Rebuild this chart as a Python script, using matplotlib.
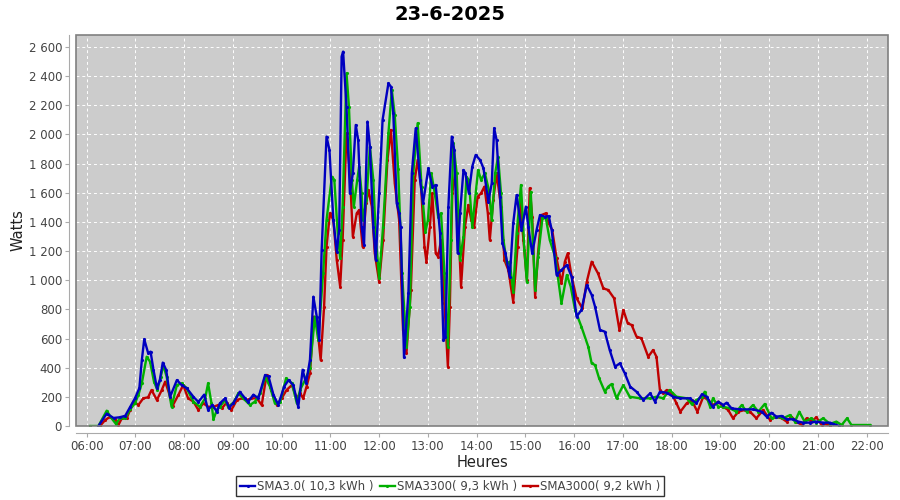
import matplotlib
matplotlib.use('Agg')
import matplotlib.pyplot as plt
from matplotlib.patches import Rectangle
from matplotlib.ticker import FuncFormatter, MultipleLocator

title = "23-6-2025"
labels = ['SMA3.0( 10,3 kWh )', 'SMA3300( 9,3 kWh )', 'SMA3000( 9,2 kWh )']
colors = ['#0000c0', '#00b000', '#c00000']

# heures (decimal) / watts
sma30_h = [6.24, 6.41, 6.55, 6.68, 6.79, 6.89, 6.99, 7.08, 7.13, 7.18, 7.26, 7.31, 7.37, 7.44, 7.50, 7.56,
           7.63, 7.71, 7.85, 7.95, 8.05, 8.19, 8.29, 8.41, 8.49, 8.58, 8.67, 8.73, 8.84, 8.92, 9.01, 9.14,
           9.25, 9.31, 9.42, 9.52, 9.66, 9.73, 9.83, 9.93, 10.05, 10.14, 10.24, 10.34, 10.43, 10.50, 10.58,
           10.65, 10.72, 10.77, 10.82, 10.92, 10.98, 11.06, 11.13, 11.18, 11.23, 11.26, 11.33, 11.40, 11.46,
           11.52, 11.57, 11.64, 11.69, 11.76, 11.81, 11.88, 11.93, 12.00, 12.07, 12.19, 12.24, 12.29, 12.36,
           12.41, 12.44, 12.51, 12.60, 12.67, 12.75, 12.84, 12.90, 13.01, 13.09, 13.16, 13.25, 13.32, 13.36,
           13.42, 13.49, 13.54, 13.61, 13.66, 13.73, 13.77, 13.84, 13.91, 13.98, 14.07, 14.14, 14.24, 14.31,
           14.36, 14.41, 14.48, 14.53, 14.59, 14.68, 14.75, 14.82, 14.92, 15.01, 15.06, 15.14, 15.23, 15.30,
           15.40, 15.48, 15.54, 15.64, 15.74, 15.85, 15.95, 16.05, 16.15, 16.26, 16.36, 16.43, 16.53, 16.63,
           16.73, 16.84, 16.94, 17.04, 17.15, 17.28, 17.42, 17.56, 17.66, 17.76, 17.90, 18.03, 18.17, 18.37,
           18.51, 18.62, 18.72, 18.84, 18.96, 19.06, 19.13, 19.23, 19.40, 19.67, 19.85, 19.95, 20.05, 20.15,
           20.26, 20.36, 20.49, 20.60, 20.70, 20.84, 20.97, 21.11, 21.25, 21.32, 21.44]
sma30_w = [0, 85, 55, 60, 70, 130, 190, 260, 450, 595, 500, 510, 385, 260, 315, 435,
           385, 200, 315, 280, 260, 200, 165, 215, 110, 145, 98, 155, 190, 125, 158, 235,
           190, 165, 215, 190, 350, 340, 215, 145, 270, 315, 280, 130, 385, 293, 453,
           887, 750, 590, 1207, 1985, 1893, 1413, 1196, 1345, 2534, 2568, 2190, 1596, 1734,
           2065, 1962, 1367, 1242, 2088, 1916, 1367, 1139, 1596, 2099, 2351, 2328, 2145, 1528,
           1459, 1367, 470, 910, 1734, 2042, 1688, 1528, 1768, 1642, 1653, 1322, 590, 613,
           1504, 1985, 1893, 1185, 1459, 1756, 1734, 1596, 1779, 1859, 1825, 1768, 1539, 1665,
           2042, 1960, 1573, 1253, 1185, 1024, 1390, 1585, 1345, 1504, 1367, 1185, 1345, 1447,
           1436, 1440, 1345, 1036, 1070, 1104, 1024, 750, 796, 967, 900, 818, 659, 647,
           521, 407, 430, 361, 270, 235, 178, 224, 167, 235, 228, 201, 190, 190,
           156, 217, 201, 132, 167, 144, 160, 121, 114, 114, 98, 64, 91, 64,
           69, 46, 46, 30, 23, 23, 30, 23, 23, 14, 0]

sma3300_h = [6.07, 6.24, 6.41, 6.51, 6.60, 6.68, 6.79, 6.89, 6.99, 7.06, 7.13, 7.23, 7.30, 7.38, 7.45, 7.52,
             7.57, 7.64, 7.74, 7.85, 7.95, 8.05, 8.19, 8.32, 8.43, 8.49, 8.56, 8.60, 8.67, 8.73, 8.84, 8.90,
             9.01, 9.11, 9.21, 9.35, 9.45, 9.56, 9.66, 9.76, 9.86, 9.97, 10.09, 10.21, 10.31, 10.38, 10.48,
             10.58, 10.68, 10.75, 10.85, 10.92, 11.03, 11.08, 11.15, 11.20, 11.25, 11.33, 11.38, 11.44, 11.48,
             11.55, 11.59, 11.64, 11.67, 11.74, 11.81, 11.88, 11.93, 12.00, 12.08, 12.19, 12.26, 12.32, 12.39,
             12.47, 12.56, 12.63, 12.70, 12.79, 12.87, 12.95, 13.00, 13.07, 13.14, 13.21, 13.27, 13.34, 13.41,
             13.47, 13.52, 13.59, 13.66, 13.73, 13.79, 13.84, 13.91, 13.98, 14.03, 14.09, 14.17, 14.25, 14.31,
             14.38, 14.44, 14.50, 14.55, 14.62, 14.68, 14.75, 14.82, 14.91, 14.98, 15.03, 15.11, 15.20, 15.26,
             15.35, 15.42, 15.50, 15.61, 15.74, 15.85, 15.93, 16.02, 16.15, 16.29, 16.36, 16.43, 16.51, 16.63,
             16.70, 16.77, 16.87, 17.01, 17.14, 17.35, 17.56, 17.69, 17.83, 17.96, 18.10, 18.31, 18.41, 18.51,
             18.62, 18.68, 18.79, 18.85, 18.96, 19.06, 19.20, 19.33, 19.44, 19.54, 19.67, 19.78, 19.91, 20.05,
             20.15, 20.29, 20.43, 20.53, 20.62, 20.73, 20.87, 20.97, 21.11, 21.25, 21.38, 21.49, 21.60, 21.69,
             22.07]
sma3300_w = [0, 0, 105, 53, 14, 53, 53, 114, 156, 213, 293, 475, 441, 304, 247, 338,
             418, 338, 132, 281, 293, 259, 167, 132, 190, 293, 156, 46, 110, 132, 178, 132,
             160, 224, 190, 144, 167, 224, 338, 270, 156, 167, 327, 293, 156, 250, 315,
             396, 750, 590, 1047, 1413, 1710, 1688, 1322, 1150, 1504, 2420, 2190, 1688, 1504,
             1688, 1779, 1596, 1413, 1550, 1916, 1688, 1299, 1013, 1367, 2008, 2305, 2130, 1760,
             1047, 544, 818, 1734, 2077, 1642, 1333, 1413, 1734, 1596, 1436, 1459, 1047, 544,
             1276, 1939, 1734, 1139, 1299, 1710, 1688, 1367, 1596, 1756, 1688, 1734, 1619, 1413,
             1734, 1847, 1596, 1276, 1116, 1127, 921, 1322, 1653, 1207, 990, 1607, 933, 1161,
             1425, 1425, 1276, 1161, 842, 1036, 956, 796, 681, 544, 430, 418, 330, 235,
             270, 288, 190, 281, 201, 190, 190, 201, 190, 247, 201, 190, 151, 178,
             201, 235, 132, 190, 132, 132, 121, 98, 144, 98, 144, 98, 151, 53,
             64, 53, 75, 30, 98, 30, 53, 23, 53, 14, 30, 7, 53, 7,
             7]

sma3000_h = [6.27, 6.38, 6.48, 6.58, 6.65, 6.72, 6.82, 6.89, 6.96, 7.06, 7.16, 7.26, 7.33, 7.44, 7.54, 7.61,
             7.69, 7.76, 7.88, 7.98, 8.08, 8.19, 8.29, 8.39, 8.49, 8.60, 8.70, 8.77, 8.87, 8.97, 9.08, 9.18,
             9.28, 9.38, 9.49, 9.59, 9.69, 9.79, 9.90, 10.00, 10.10, 10.21, 10.31, 10.38, 10.44, 10.51, 10.58,
             10.66, 10.73, 10.80, 10.87, 10.92, 10.99, 11.06, 11.13, 11.20, 11.25, 11.33, 11.40, 11.46, 11.54,
             11.59, 11.66, 11.73, 11.78, 11.85, 11.91, 12.00, 12.08, 12.17, 12.24, 12.32, 12.41, 12.49, 12.56,
             12.65, 12.73, 12.79, 12.86, 12.93, 12.97, 13.04, 13.09, 13.16, 13.21, 13.27, 13.34, 13.41, 13.45,
             13.50, 13.56, 13.61, 13.68, 13.76, 13.83, 13.89, 13.95, 14.02, 14.09, 14.16, 14.23, 14.27, 14.34,
             14.41, 14.50, 14.57, 14.65, 14.75, 14.84, 14.89, 14.96, 15.03, 15.09, 15.14, 15.20, 15.26, 15.33,
             15.42, 15.48, 15.55, 15.64, 15.74, 15.81, 15.87, 15.95, 16.05, 16.17, 16.26, 16.36, 16.49, 16.60,
             16.70, 16.82, 16.93, 17.01, 17.10, 17.18, 17.28, 17.38, 17.52, 17.62, 17.69, 17.76, 17.83, 17.90,
             18.00, 18.10, 18.18, 18.31, 18.41, 18.53, 18.65, 18.75, 18.85, 18.96, 19.06, 19.16, 19.26, 19.37,
             19.50, 19.61, 19.74, 19.88, 20.02, 20.12, 20.26, 20.36, 20.46, 20.56, 20.67, 20.77, 20.87, 20.97,
             21.08, 21.18, 21.25]
sma3000_w = [0, 41, 64, 46, 7, 53, 53, 110, 167, 144, 190, 197, 247, 178, 247, 304,
             224, 137, 213, 281, 190, 167, 110, 156, 132, 132, 144, 121, 160, 110, 178, 190,
             178, 190, 190, 144, 350, 247, 144, 190, 247, 281, 190, 225, 190, 270, 361,
             750, 681, 453, 818, 1230, 1459, 1413, 1139, 956, 1276, 2008, 1734, 1299, 1459,
             1482, 1230, 1528, 1619, 1504, 1185, 990, 1276, 1825, 2031, 1665, 1413, 659, 499,
             933, 1688, 1825, 1642, 1230, 1127, 1367, 1596, 1185, 1161, 1276, 842, 407, 818,
             1596, 1734, 1482, 956, 1367, 1516, 1413, 1367, 1573, 1596, 1642, 1459, 1276, 1550,
             1734, 1504, 1139, 1070, 853, 1230, 1539, 1276, 1002, 1631, 1436, 887, 1185, 1447,
             1459, 1390, 1345, 1150, 979, 1127, 1185, 1024, 876, 807, 990, 1127, 1047, 944,
             933, 876, 659, 796, 704, 693, 613, 602, 475, 521, 475, 247, 224, 247,
             224, 156, 98, 156, 178, 98, 201, 178, 144, 167, 132, 110, 53, 98,
             110, 98, 53, 110, 41, 64, 53, 30, 64, 30, 7, 53, 30, 60,
             7, 14, 0]

hours = list(range(6, 23))

fig = plt.figure(figsize=(9, 5), dpi=100)
ax = fig.add_axes([76/900, 74/500, 812/900, 391/500])
ax.set_facecolor('#cccccc')

series = [(sma30_h, sma30_w), (sma3300_h, sma3300_w), (sma3000_h, sma3000_w)]
# ordre de dessin: rouge, vert, bleu (bleu au dessus)
for i in [2, 1, 0]:
    h, w = series[i]
    ax.plot(h, w, color=colors[i], linewidth=1.7, marker='.', markersize=2.5,
            solid_joinstyle='round', label=labels[i], zorder=3+(2-i))

ax.set_xlim(5.78, 22.44)
ax.set_ylim(0, 2682)
ax.set_xticks(hours)
ax.set_xticklabels(['%02d:00' % h for h in hours])
ax.yaxis.set_major_locator(MultipleLocator(200))
ax.yaxis.set_major_formatter(FuncFormatter(lambda v, p: '{:,}'.format(int(v)).replace(',', ' ')))
ax.grid(True, color='white', linestyle=(0, (3, 3)), linewidth=0.7)
ax.set_axisbelow(True)

for s in ['top', 'right']:
    ax.spines[s].set_visible(False)
for s in ['left', 'bottom']:
    ax.spines[s].set_position(('outward', 5))
    ax.spines[s].set_color('#aaaaaa')
ax.add_patch(Rectangle((0, 0), 1, 1, transform=ax.transAxes, fill=False,
                       edgecolor='#808080', linewidth=1.2, clip_on=False, zorder=10))
ax.tick_params(colors='#aaaaaa', labelcolor='#444444', labelsize=8.5, length=3, pad=2)

ax.set_xlabel('Heures', fontsize=10.5, color='#222222')
ax.set_ylabel('Watts', fontsize=10.5, color='#222222')
ax.xaxis.set_label_coords(0.5, -0.075)
ax.yaxis.set_label_coords(-0.062, 0.5)
fig.suptitle(title, fontsize=14, fontweight='bold', y=0.99)

handles, labs = ax.get_legend_handles_labels()
order = [2, 1, 0]
leg = fig.legend([handles[k] for k in order], [labs[k] for k in order], loc='lower center',
                 bbox_to_anchor=(0.5, 0.0), ncol=3, fontsize=8.5, frameon=True, fancybox=False,
                 handlelength=1.3, handletextpad=0.15, columnspacing=0.5, borderpad=0.3,
                 borderaxespad=0.3)
leg.get_frame().set_edgecolor('black')
leg.get_frame().set_linewidth(1)
for t in leg.get_texts():
    t.set_color('#444444')

fig.savefig('out.png', dpi=100)
